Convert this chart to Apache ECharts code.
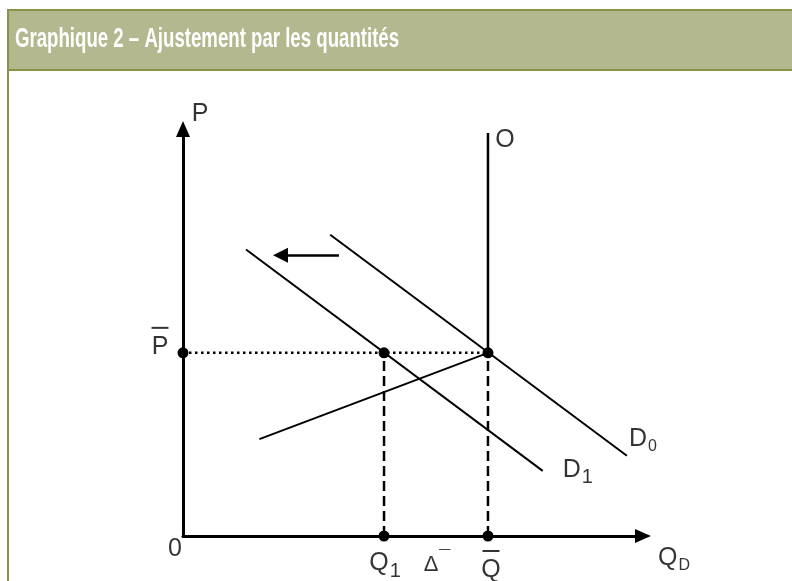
<!DOCTYPE html>
<html>
<head>
<meta charset="utf-8">
<script src="https://cdn.jsdelivr.net/npm/echarts@6/dist/echarts.min.js"></script>
<style>
  html, body { margin: 0; padding: 0; background: #fff; }
  #chart { width: 792px; height: 581px; }
</style>
</head>
<body>
<div id="chart"></div>
<script>
// schematic values (arbitrary units, axes 0..100)
const pBar = 45;
const q1 = 43.7;
const qBar = 66.3;
const offerTop = 99;
const demandD0 = [[32.0, 74.0], [96.5, 19.7]];
const demandD1 = [[13.7, 70.4], [78.2, 16.0]];
const risingLine = [[16.6, 23.8], [qBar, pBar]];
const offerLine = [[qBar, pBar], [qBar, offerTop]];
const shiftArrow = [[33.9, 69.0], [21.2, 69.0]];
const keyPoints = [[0, pBar], [q1, pBar], [qBar, pBar], [q1, 0], [qBar, 0]];

const FONT = '"Liberation Sans", Arial, "DejaVu Sans", sans-serif';
const chart = echarts.init(document.getElementById('chart'));

function plainLine(name, data, style) {
    return {
        name: name,
        type: 'line',
        data: data,
        symbol: 'none',
        silent: true,
        animation: false,
        lineStyle: Object.assign({ color: '#000', width: 2 }, style || {})
    };
}

const rich = {
    t: { fontFamily: FONT, fontSize: 25, lineHeight: 26, color: '#000', verticalAlign: 'top' },
    sub: { fontFamily: FONT, fontSize: 20, lineHeight: 20, padding: [10, 0, 0, 1], color: '#000', verticalAlign: 'top' },
    subs: { fontFamily: FONT, fontSize: 16, lineHeight: 16, padding: [12, 0, 0, 1], color: '#000', verticalAlign: 'top' },
    bar: { width: 17, height: 2, lineHeight: 14, backgroundColor: '#000', fontSize: 2 },
    d: { fontFamily: FONT, fontSize: 22, lineHeight: 26, color: '#000', verticalAlign: 'bottom' },
    sup: { fontFamily: FONT, fontSize: 20, lineHeight: 26, padding: [0, 0, 8, 1], color: '#000', verticalAlign: 'bottom' }
};

// text, anchor, pixel offset
const labels = [
    { text: 'P', at: [0, 100], off: [17, -15] },
    { text: 'O', at: [qBar, offerTop], off: [17, 7] },
    { text: '{bar| }\n{t|P}', at: [0, pBar], off: [-23, -12] },
    { text: '0', at: [0, 0], off: [-8, 13] },
    { text: '{t|Q}{sub|1}', at: [q1, 0], off: [1, 28] },
    { text: '{d|Δ}{sup|¯}', at: [(q1 + qBar) / 2, 0], off: [1, 27] },
    { text: '{bar| }\n{t|Q}', at: [qBar, 0], off: [3, 28] },
    { text: '{t|Q}{subs|D}', at: [100, 0], off: [31, 23] },
    { text: '{t|D}{subs|0}', at: demandD0[1], off: [16, -16] },
    { text: '{t|D}{sub|1}', at: demandD1[1], off: [35, 0] }
];

const axisCommon = {
    type: 'value',
    min: 0,
    max: 100,
    splitLine: { show: false },
    axisTick: { show: false },
    axisLabel: { show: false },
    axisLine: {
        show: true,
        symbol: ['none', 'triangle'],
        symbolSize: [14, 16],
        lineStyle: { color: '#000', width: 3 }
    }
};

const option = {
    animation: false,
    backgroundColor: '#fff',
    grid: { left: 183, top: 129, width: 460, height: 407 },
    xAxis: axisCommon,
    yAxis: axisCommon,
    graphic: [
        {
            type: 'rect',
            shape: { x: 8, y: 10, width: 800, height: 60 },
            style: { fill: '#b4b88e', stroke: '#8a9048', lineWidth: 2 },
            silent: true
        },
        {
            type: 'line',
            shape: { x1: 8, y1: 70, x2: 8, y2: 590 },
            style: { stroke: '#8a9048', lineWidth: 2 },
            silent: true
        },
        {
            type: 'text',
            x: 15,
            y: 40,
            scaleX: 0.69,
            style: {
                text: 'Graphique 2 – Ajustement par les quantités',
                fill: '#fff',
                font: 'bold 27px ' + FONT,
                textVerticalAlign: 'middle'
            },
            silent: true
        }
    ],
    series: [
        plainLine('D0', demandD0),
        plainLine('D1', demandD1),
        plainLine('rising', risingLine),
        plainLine('O', offerLine, { width: 2.5 }),
        plainLine('pbar', [[0, pBar], [qBar, pBar]], { type: [2.5, 3.5], width: 2.5 }),
        plainLine('q1', [[q1, 0], [q1, pBar]], { type: [10, 5], width: 2.5 }),
        plainLine('qbar', [[qBar, 0], [qBar, pBar]], { type: [10, 5], width: 2.5 }),
        {
            name: 'shift',
            type: 'line',
            data: [],
            silent: true,
            markLine: {
                silent: true,
                symbol: ['none', 'triangle'],
                symbolSize: [15, 15],
                label: { show: false },
                lineStyle: { color: '#000', width: 2.5, type: 'solid' },
                data: [[{ coord: shiftArrow[0] }, { coord: shiftArrow[1] }]]
            }
        },
        {
            name: 'points',
            type: 'scatter',
            data: keyPoints,
            symbol: 'circle',
            symbolSize: 11,
            silent: true,
            itemStyle: { color: '#000', opacity: 1 },
            z: 5
        },
        {
            name: 'labels',
            type: 'scatter',
            symbolSize: 0,
            silent: true,
            data: labels.map(l => ({
                value: l.at,
                label: {
                    show: true,
                    position: 'inside',
                    offset: l.off,
                    formatter: l.text,
                    align: 'center',
                    verticalAlign: 'middle',
                    fontFamily: FONT,
                    fontSize: 25,
                    color: '#000',
                    rich: rich
                }
            }))
        }
    ]
};
chart.setOption(option);
</script>
</body>
</html>
